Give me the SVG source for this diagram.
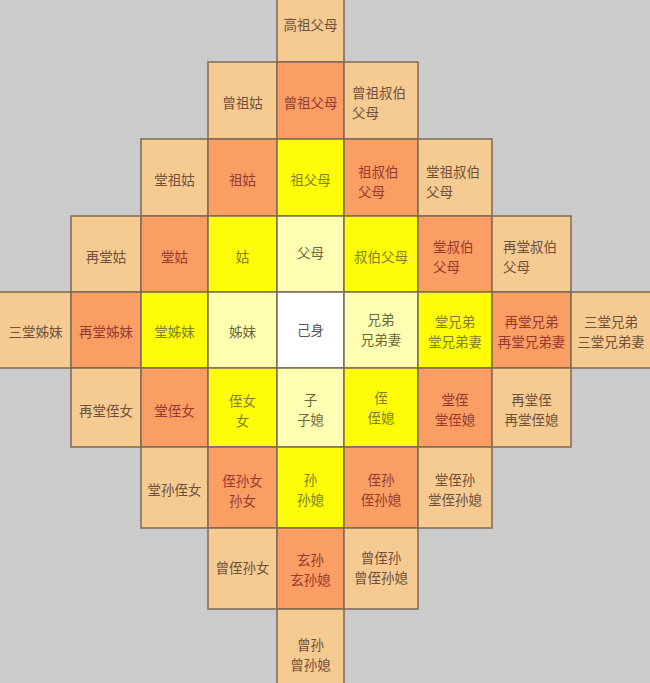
<svg xmlns="http://www.w3.org/2000/svg" width="650" height="683" viewBox="0 0 650 683">
<style>
rect.c{stroke:#7d6a55;stroke-width:1.5}
.t{fill:#f6cb92}
.o{fill:#fb9e64}
.y{fill:#fffc08}
.p{fill:#ffffb2}
.w{fill:#ffffff}
text{font-family:"Noto Sans CJK SC","Noto Sans CJK TC",sans-serif;font-size:13.5px;dominant-baseline:central}
.mid{text-anchor:middle}
.tt{fill:#70503a}
.to{fill:#963a30}
.ty{fill:#808024}
.tp{fill:#6c6a3a}
.tw{fill:#555555}
</style>
<rect width="650" height="683" fill="#cbcbcb"/>
<g id="r0">
<g id="gaozu"><rect class="c t" x="277" y="-2" width="67" height="64"/><text class="mid tt" x="310.5" y="24">高祖父母</text></g>
</g>
<g id="r1">
<g id="zengzugu"><rect class="c t" x="208" y="62" width="69" height="77"/><text class="mid tt" x="242.5" y="102">曾祖姑</text></g>
<g id="zengzufumu"><rect class="c o" x="277" y="62" width="67" height="77"/><text class="mid to" x="310.5" y="102">曾祖父母</text></g>
<g id="zengzushubo"><rect class="c t" x="344" y="62" width="74" height="77"/><text class="tt" x="352" y="92">曾祖叔伯</text><text class="tt" x="352" y="112">父母</text></g>
</g>
<g id="r2">
<g id="tangzugu"><rect class="c t" x="141" y="139" width="67" height="77"/><text class="mid tt" x="174.5" y="179">堂祖姑</text></g>
<g id="zugu"><rect class="c o" x="208" y="139" width="69" height="77"/><text class="mid to" x="242.5" y="179">祖姑</text></g>
<g id="zufumu"><rect class="c y" x="277" y="139" width="67" height="77"/><text class="mid ty" x="310.5" y="179">祖父母</text></g>
<g id="zushubo"><rect class="c o" x="344" y="139" width="74" height="77"/><text class="to" x="358" y="170.5">祖叔伯</text><text class="to" x="358" y="190.5">父母</text></g>
<g id="tangzushubo"><rect class="c t" x="418" y="139" width="74" height="77"/><text class="tt" x="426" y="170.5">堂祖叔伯</text><text class="tt" x="426" y="190.5">父母</text></g>
</g>
<g id="r3">
<g id="zaitanggu"><rect class="c t" x="71" y="216" width="70" height="76"/><text class="mid tt" x="106" y="256">再堂姑</text></g>
<g id="tanggu"><rect class="c o" x="141" y="216" width="67" height="76"/><text class="mid to" x="174.5" y="256">堂姑</text></g>
<g id="gu"><rect class="c y" x="208" y="216" width="69" height="76"/><text class="mid ty" x="242.5" y="256">姑</text></g>
<g id="fumu"><rect class="c p" x="277" y="216" width="67" height="76"/><text class="mid tp" x="310.5" y="252">父母</text></g>
<g id="shubofumu"><rect class="c y" x="344" y="216" width="74" height="76"/><text class="mid ty" x="381" y="256">叔伯父母</text></g>
<g id="tangshubo"><rect class="c o" x="418" y="216" width="74" height="76"/><text class="to" x="433" y="245.5">堂叔伯</text><text class="to" x="433" y="265.5">父母</text></g>
<g id="zaitangshubo"><rect class="c t" x="492" y="216" width="79" height="76"/><text class="tt" x="503" y="245.5">再堂叔伯</text><text class="tt" x="503" y="265.5">父母</text></g>
</g>
<g id="r4">
<g id="santangzimei"><rect class="c t" x="-2" y="292" width="73" height="76"/><text class="mid tt" x="35.5" y="331">三堂姊妹</text></g>
<g id="zaitangzimei"><rect class="c o" x="71" y="292" width="70" height="76"/><text class="mid to" x="106" y="331">再堂姊妹</text></g>
<g id="tangzimei"><rect class="c y" x="141" y="292" width="67" height="76"/><text class="mid ty" x="174.5" y="331">堂姊妹</text></g>
<g id="zimei"><rect class="c p" x="208" y="292" width="69" height="76"/><text class="mid tp" x="242.5" y="331">姊妹</text></g>
<g id="jishen"><rect class="c w" x="277" y="292" width="67" height="76"/><text class="mid tw" x="310.5" y="329">己身</text></g>
<g id="xiongdi"><rect class="c p" x="344" y="292" width="74" height="76"/><text class="mid tp" x="381" y="319">兄弟</text><text class="mid tp" x="381" y="339">兄弟妻</text></g>
<g id="tangxiongdi"><rect class="c y" x="418" y="292" width="74" height="76"/><text class="mid ty" x="455" y="320.5">堂兄弟</text><text class="mid ty" x="455" y="340.5">堂兄弟妻</text></g>
<g id="zaitangxiongdi"><rect class="c o" x="492" y="292" width="79" height="76"/><text class="mid to" x="531.5" y="320.5">再堂兄弟</text><text class="mid to" x="531.5" y="340.5">再堂兄弟妻</text></g>
<g id="santangxiongdi"><rect class="c t" x="571" y="292" width="81" height="76"/><text class="mid tt" x="611" y="320.5">三堂兄弟</text><text class="mid tt" x="611" y="340.5">三堂兄弟妻</text></g>
</g>
<g id="r5">
<g id="zaitangzhinv"><rect class="c t" x="71" y="368" width="70" height="79"/><text class="mid tt" x="106" y="410">再堂侄女</text></g>
<g id="tangzhinv"><rect class="c o" x="141" y="368" width="67" height="79"/><text class="mid to" x="174.5" y="410">堂侄女</text></g>
<g id="zhinv"><rect class="c y" x="208" y="368" width="69" height="79"/><text class="mid ty" x="242.5" y="399.5">侄女</text><text class="mid ty" x="242.5" y="419.5">女</text></g>
<g id="zi"><rect class="c p" x="277" y="368" width="67" height="79"/><text class="mid tp" x="310.5" y="398.5">子</text><text class="mid tp" x="310.5" y="418.5">子媳</text></g>
<g id="zhi"><rect class="c y" x="344" y="368" width="74" height="79"/><text class="mid ty" x="381" y="396.5">侄</text><text class="mid ty" x="381" y="416.5">侄媳</text></g>
<g id="tangzhi"><rect class="c o" x="418" y="368" width="74" height="79"/><text class="mid to" x="455" y="399">堂侄</text><text class="mid to" x="455" y="419">堂侄媳</text></g>
<g id="zaitangzhi"><rect class="c t" x="492" y="368" width="79" height="79"/><text class="mid tt" x="531.5" y="398.5">再堂侄</text><text class="mid tt" x="531.5" y="418.5">再堂侄媳</text></g>
</g>
<g id="r6">
<g id="tangsunzhinv"><rect class="c t" x="141" y="447" width="67" height="81"/><text class="mid tt" x="174.5" y="489">堂孙侄女</text></g>
<g id="zhisunnv"><rect class="c o" x="208" y="447" width="69" height="81"/><text class="mid to" x="242.5" y="479.5">侄孙女</text><text class="mid to" x="242.5" y="499.5">孙女</text></g>
<g id="sun"><rect class="c y" x="277" y="447" width="67" height="81"/><text class="mid ty" x="310.5" y="478.5">孙</text><text class="mid ty" x="310.5" y="498.5">孙媳</text></g>
<g id="zhisun"><rect class="c o" x="344" y="447" width="74" height="81"/><text class="mid to" x="381" y="478.5">侄孙</text><text class="mid to" x="381" y="498.5">侄孙媳</text></g>
<g id="tangzhisun"><rect class="c t" x="418" y="447" width="74" height="81"/><text class="mid tt" x="455" y="478.5">堂侄孙</text><text class="mid tt" x="455" y="498.5">堂侄孙媳</text></g>
</g>
<g id="r7">
<g id="zengzhisunnv"><rect class="c t" x="208" y="528" width="69" height="81"/><text class="mid tt" x="242.5" y="567">曾侄孙女</text></g>
<g id="xuansun"><rect class="c o" x="277" y="528" width="67" height="81"/><text class="mid to" x="310.5" y="558.5">玄孙</text><text class="mid to" x="310.5" y="578.5">玄孙媳</text></g>
<g id="zengzhisun"><rect class="c t" x="344" y="528" width="74" height="81"/><text class="mid tt" x="381" y="556.5">曾侄孙</text><text class="mid tt" x="381" y="576.5">曾侄孙媳</text></g>
</g>
<g id="r8">
<g id="zengsun"><rect class="c t" x="277" y="609" width="67" height="76"/><text class="mid tt" x="310.5" y="643.5">曾孙</text><text class="mid tt" x="310.5" y="663.5">曾孙媳</text></g>
</g>
<g id="connectors"/>
</svg>
